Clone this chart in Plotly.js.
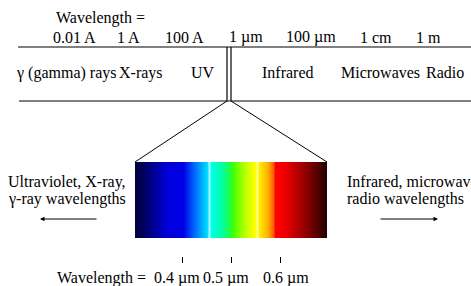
<!DOCTYPE html>
<html>
<head>
<meta charset="utf-8">
<script src="https://cdn.plot.ly/plotly-3.0.1.min.js"></script>
<style>html,body{margin:0;padding:0;background:#fff;overflow:hidden}#chart{width:471px;height:286px}</style>
</head>
<body>
<div id="chart"></div>
<script>
// ---- data ----
const topTitle = 'Wavelength =';
const topTickLabels = ['0.01 A', '1 A', '100 A', '1 \u00b5m', '100 \u00b5m', '1 cm', '1 m'];
const bandLabels = ['\u03b3 (gamma) rays', 'X-rays', 'UV', 'Infrared', 'Microwaves', 'Radio'];
const leftNote = ['Ultraviolet, X-ray,', '\u03b3-ray wavelengths'];
const rightNote = ['Infrared, microwave,', 'radio wavelengths'];
const bottomTitle = 'Wavelength =';
const bottomTickValues = [0.4, 0.5, 0.6];           // micrometres
const bottomTickLabels = ['0.4 \u00b5m', '0.5 \u00b5m', '0.6 \u00b5m'];
// visible spectrum: wavelength (micrometres) and colour
const spectrumUm = [0.29, 0.304, 0.335, 0.36, 0.37, 0.402, 0.427, 0.451, 0.455, 0.459, 0.482, 0.497, 0.505, 0.529, 0.549, 0.553, 0.557, 0.5755, 0.585, 0.59, 0.61, 0.651, 0.692, 0.71];
const spectrumColors = ['#00002a', '#00003a', '#000080', '#0000c0', '#0000dd', '#0000e6', '#0070ff', '#00ddff', '#aaffff', '#00ffee', '#00ffa0', '#22ff40', '#44ff00', '#bbff00', '#ffff00', '#ffff99', '#ffee00', '#ffaa00', '#ff6000', '#ff0000', '#ee0000', '#900000', '#2a0000', '#100000'];

// ---- layout helpers (pixel -> paper) ----
const W = 471, H = 286;
const px = x => x / W;
const py = y => 1 - y / H;
const FONT = {family: 'Liberation Serif, Times New Roman, serif', size: 16, color: '#000'};

const topTickX = [74, 128, 184, 246, 311, 375.5, 428];
const bandX = [65.5, 141, 203, 287.5, 380.5, 444.5];
const bottomLabelX = [177, 226, 285.5];

const zmin = spectrumUm[0], zmax = spectrumUm[spectrumUm.length - 1];
const colorscale = spectrumUm.map((w, i) => [(w - zmin) / (zmax - zmin), spectrumColors[i]]);

const trace = {
  type: 'heatmap',
  x: spectrumUm,
  y: [0, 1],
  z: [spectrumUm, spectrumUm],
  zmin: zmin, zmax: zmax,
  colorscale: colorscale,
  zsmooth: 'best',
  showscale: false,
  hoverinfo: 'skip'
};

const annotations = [];
function txt(text, x, y, xanchor) {
  annotations.push({text: text, x: px(x), y: py(y), xref: 'paper', yref: 'paper',
    xanchor: xanchor || 'center', yanchor: 'middle', showarrow: false, font: FONT});
}
txt(topTitle, 100, 18);
topTickLabels.forEach((t, i) => txt(t, topTickX[i], 37));
bandLabels.forEach((t, i) => txt(t, bandX[i], 73));
txt(leftNote[0], 128, 181.5, 'right');
txt(leftNote[1], 128, 199, 'right');
txt(rightNote[0], 345, 181.5, 'left');
txt(rightNote[1], 345, 199, 'left');
txt(bottomTitle, 101, 277.5);
bottomTickLabels.forEach((t, i) => txt(t, bottomLabelX[i], 277.5));
// arrows
annotations.push({x: px(40), y: py(219), ax: px(98), ay: py(219), xref: 'paper', yref: 'paper',
  axref: 'paper', ayref: 'paper', text: '', showarrow: true, arrowhead: 2, arrowsize: 0.9, arrowwidth: 1, arrowcolor: '#000'});
annotations.push({x: px(438), y: py(219), ax: px(379), ay: py(219), xref: 'paper', yref: 'paper',
  axref: 'paper', ayref: 'paper', text: '', showarrow: true, arrowhead: 2, arrowsize: 0.9, arrowwidth: 1, arrowcolor: '#000'});

const line = {color: '#000', width: 1.2};
const shapes = [
  {type: 'line', xref: 'paper', yref: 'paper', x0: px(18), x1: px(471), y0: py(47), y1: py(47), line: line},
  {type: 'line', xref: 'paper', yref: 'paper', x0: px(19), x1: px(471), y0: py(101), y1: py(101), line: line},
  {type: 'line', xref: 'paper', yref: 'paper', x0: px(227), x1: px(227), y0: py(47), y1: py(101), line: line},
  {type: 'line', xref: 'paper', yref: 'paper', x0: px(231), x1: px(231), y0: py(47), y1: py(101), line: line},
  {type: 'line', xref: 'paper', yref: 'paper', x0: px(227), x1: px(135), y0: py(101), y1: py(162), line: {color: '#000', width: 1}},
  {type: 'line', xref: 'paper', yref: 'paper', x0: px(231), x1: px(327), y0: py(101), y1: py(162), line: {color: '#000', width: 1}}
];

const layout = {
  width: W, height: H,
  margin: {l: 0, r: 0, t: 0, b: 0},
  paper_bgcolor: '#fff', plot_bgcolor: '#fff',
  showlegend: false,
  xaxis: {
    domain: [px(135), px(327)],
    range: [0.3041, 0.6959],
    anchor: 'free', position: py(256),
    showgrid: false, zeroline: false, showline: false,
    ticks: 'outside', ticklen: 6, tickwidth: 1, tickcolor: '#000',
    tickvals: bottomTickValues, showticklabels: false, fixedrange: true
  },
  yaxis: {
    domain: [py(238), py(162)],
    range: [0, 1],
    visible: false, fixedrange: true
  },
  shapes: shapes,
  annotations: annotations
};

Plotly.newPlot('chart', [trace], layout, {staticPlot: true, displayModeBar: false});
</script>
</body>
</html>
